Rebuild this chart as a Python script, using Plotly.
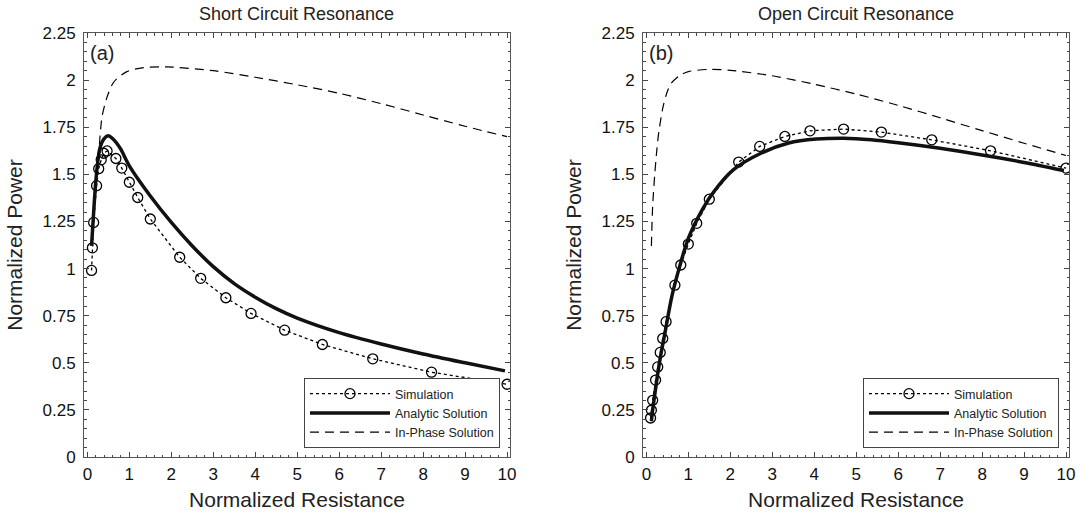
import plotly.graph_objects as go

# ---------------- data ----------------
sim_x = [0.1, 0.12, 0.15, 0.22, 0.27, 0.33, 0.39, 0.47, 0.68, 0.82, 1.0, 1.2,
         1.5, 2.2, 2.7, 3.3, 3.9, 4.7, 5.6, 6.8, 8.2, 10.0]

# (a) Short circuit resonance
sc_sim_y = [0.99, 1.11, 1.245, 1.44, 1.53, 1.577, 1.612, 1.624, 1.584, 1.533, 1.458, 1.377,
            1.263, 1.06, 0.948, 0.845, 0.762, 0.673, 0.597, 0.521, 0.45, 0.386]
sc_ana_x = [0.1, 0.15, 0.2, 0.25, 0.3, 0.4, 0.5, 0.6, 0.7, 0.8, 1.0, 1.5, 2.0, 2.5,
            3.0, 3.5, 4.0, 4.5, 5.0, 6.0, 7.0, 8.0, 9.0, 9.95]
sc_ana_y = [1.12, 1.30, 1.46, 1.57, 1.64, 1.69, 1.705, 1.69, 1.665, 1.632, 1.545, 1.385, 1.245,
            1.12, 1.01, 0.92, 0.848, 0.787, 0.737, 0.66, 0.60, 0.547, 0.50, 0.457]
sc_inp_x = [0.22, 0.27, 0.35, 0.47, 0.63, 0.94, 1.34, 1.9, 3.0, 4.0, 5.0, 6.0, 7.0, 8.0, 9.0, 10.0]
sc_inp_y = [1.50, 1.61, 1.806, 1.91, 1.99, 2.045, 2.066, 2.07, 2.05, 2.015, 1.975, 1.93,
            1.875, 1.815, 1.755, 1.70]

# (b) Open circuit resonance
oc_sim_y = [0.207, 0.248, 0.301, 0.408, 0.478, 0.555, 0.629, 0.718, 0.912, 1.019, 1.13, 1.24,
            1.368, 1.565, 1.648, 1.701, 1.731, 1.74, 1.724, 1.683, 1.625, 1.533]
oc_ana_x = [0.12, 0.15, 0.2, 0.27, 0.35, 0.44, 0.6, 0.76, 1.0, 1.34, 1.58, 2.07, 2.73, 3.39,
            4.05, 4.7, 5.36, 6.0, 7.0, 8.0, 9.0, 9.95]
oc_ana_y = [0.19, 0.25, 0.33, 0.44, 0.55, 0.655, 0.845, 0.985, 1.16, 1.315, 1.40, 1.524,
            1.612, 1.666, 1.687, 1.692, 1.684, 1.668, 1.638, 1.603, 1.563, 1.52]
oc_inp_x = [0.12, 0.15, 0.2, 0.25, 0.3, 0.4, 0.5, 0.6, 0.8, 1.0, 1.5, 2.0, 3.0, 4.0, 5.0,
            6.0, 7.0, 8.0, 9.0, 10.0]
oc_inp_y = [1.12, 1.33, 1.50, 1.63, 1.73, 1.86, 1.94, 1.985, 2.025, 2.045, 2.057, 2.052,
            2.023, 1.978, 1.926, 1.866, 1.80, 1.732, 1.665, 1.60]

x_ticks = list(range(0, 11))
y_tickvals = [0, 0.25, 0.5, 0.75, 1, 1.25, 1.5, 1.75, 2, 2.25]
y_ticktext = ["0", "0.25", "0.5", "0.75", "1", "1.25", "1.5", "1.75", "2", "2.25"]

titles = ["Short Circuit Resonance", "Open Circuit Resonance"]
panel_labels = ["(a)", "(b)"]
names = ["Simulation", "Analytic Solution", "In-Phase Solution"]

FONT = "Liberation Sans, Arial, Helvetica, sans-serif"
W, H = 1081, 514

fig = go.Figure()

panels = [
    (sc_sim_y, sc_ana_x, sc_ana_y, sc_inp_x, sc_inp_y, "x", "y", "legend"),
    (oc_sim_y, oc_ana_x, oc_ana_y, oc_inp_x, oc_inp_y, "x2", "y2", "legend2"),
]
for sim_y, ax, ay, ix, iy, xa, ya, lg in panels:
    fig.add_trace(go.Scatter(x=sim_x, y=sim_y, xaxis=xa, yaxis=ya, mode="lines+markers",
                             name=names[0], legend=lg,
                             line=dict(color="black", width=1.3, dash="dot"),
                             marker=dict(symbol="circle-open", size=10, color="black",
                                         line=dict(width=1.3, color="black"))))
    fig.add_trace(go.Scatter(x=ax, y=ay, xaxis=xa, yaxis=ya, mode="lines", name=names[1],
                             legend=lg, line=dict(color="#111", width=3.5, shape="spline",
                                                  smoothing=0.8)))
    fig.add_trace(go.Scatter(x=ix, y=iy, xaxis=xa, yaxis=ya, mode="lines", name=names[2],
                             legend=lg, line=dict(color="black", width=1.2, dash="9px,6px",
                                                  shape="spline", smoothing=0.8)))

def xaxis(domain, anchor):
    return dict(domain=domain, anchor=anchor, range=[-0.08, 10.07], tickvals=x_ticks,
                ticks="inside", ticklen=5, tickcolor="#444", showline=True, linecolor="#555",
                linewidth=1, mirror="ticks", showgrid=False, zeroline=False, automargin=False,
                tickfont=dict(family=FONT, size=17, color="#111"), ticklabelstandoff=2,
                title=dict(text="Normalized Resistance", font=dict(family=FONT, size=21, color="#222"),
                           standoff=8),
                minor=dict(dtick=0.2, ticks="inside", ticklen=2.5, tickcolor="#444", showgrid=False))

def yaxis(domain, anchor):
    return dict(domain=domain, anchor=anchor, range=[0, 2.25], tickvals=y_tickvals,
                ticktext=y_ticktext, ticks="inside", ticklen=5, tickcolor="#444", showline=True,
                linecolor="#555", linewidth=1, mirror="ticks", showgrid=False, zeroline=False,
                automargin=False, ticklabelstandoff=4,
                tickfont=dict(family=FONT, size=17, color="#111"),
                title=dict(text="Normalized Power", font=dict(family=FONT, size=21, color="#222"),
                           standoff=14),
                minor=dict(dtick=0.05, ticks="inside", ticklen=2.5, tickcolor="#444", showgrid=False))

ydom = [1 - 457 / H, 1 - 33 / H]
xdom1 = [84 / W, 510 / W]
xdom2 = [643 / W, 1069 / W]

leg = dict(bgcolor="white", bordercolor="#444", borderwidth=1, xanchor="right", yanchor="bottom",
           font=dict(family=FONT, size=12.5, color="#222"), itemwidth=80, tracegroupgap=0,
           traceorder="normal")

fig.update_layout(
    width=W, height=H, margin=dict(l=0, r=0, t=0, b=0, autoexpand=False),
    paper_bgcolor="white", plot_bgcolor="white", showlegend=True,
    xaxis=xaxis(xdom1, "y"), yaxis=yaxis(ydom, "x"),
    xaxis2=xaxis(xdom2, "y2"), yaxis2=yaxis(ydom, "x2"),
    legend=dict(leg, x=500 / W, y=1 - 448 / H),
    legend2=dict(leg, x=1059 / W, y=1 - 448 / H),
    annotations=[
        dict(text=titles[0], x=(xdom1[0] + xdom1[1]) / 2, y=1 - 14 / H, xref="paper", yref="paper",
             xanchor="center", yanchor="middle",
             showarrow=False, font=dict(family=FONT, size=18, color="#222")),
        dict(text=titles[1], x=(xdom2[0] + xdom2[1]) / 2, y=1 - 14 / H, xref="paper", yref="paper",
             xanchor="center", yanchor="middle",
             showarrow=False, font=dict(family=FONT, size=18, color="#222")),
        dict(text=panel_labels[0], x=0.02, y=2.145, xref="x", yref="y", xanchor="left",
             showarrow=False, font=dict(family=FONT, size=20, color="#222")),
        dict(text=panel_labels[1], x=0.02, y=2.145, xref="x2", yref="y2", xanchor="left",
             showarrow=False, font=dict(family=FONT, size=20, color="#222")),
    ],
)

fig.write_html("out.html", config={"displayModeBar": False},
               post_script="document.body.style.margin='0';")
